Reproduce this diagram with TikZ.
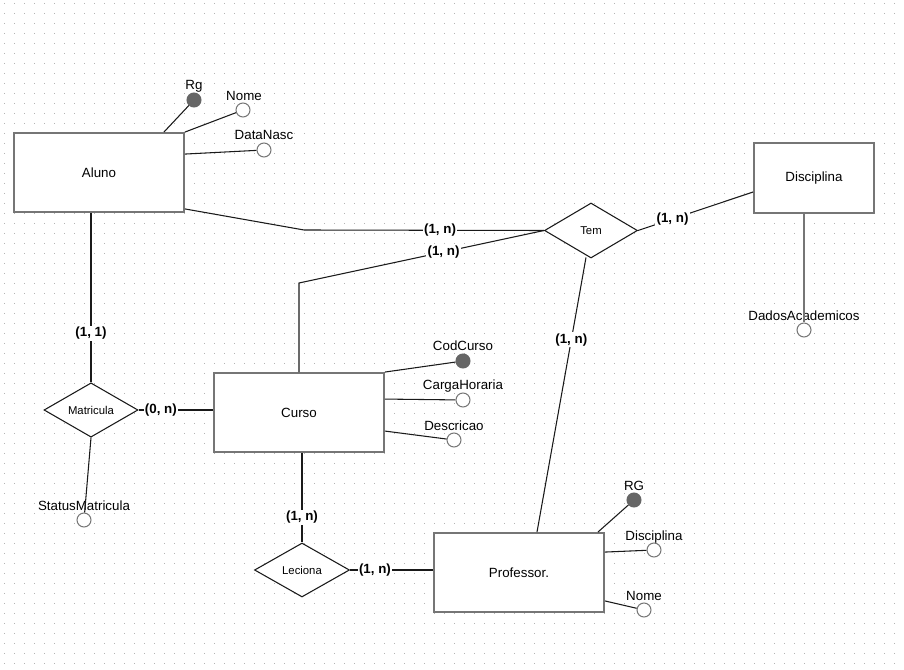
\documentclass[tikz,border=0pt]{standalone}
\usepackage{fontspec}
\setmainfont{Liberation Sans}
\usetikzlibrary{positioning,calc,shapes.geometric}

\definecolor{boxgray}{HTML}{767676}
\definecolor{keygray}{HTML}{666666}
\definecolor{dotgray}{HTML}{B4B4B4}
\definecolor{linegray}{HTML}{1A1A1A}

\tikzset{
  entity/.style={draw=boxgray, line width=1.4pt, fill=white, minimum width=127.5pt,
    minimum height=59.25pt, font=\fontsize{10}{12}\selectfont},
  relation/.style={diamond, draw=linegray, line width=0.8pt, fill=white, inner sep=0pt,
    font=\fontsize{8.5}{10}\selectfont},
  attrib/.style={circle, draw=boxgray, fill=white, line width=0.8pt, minimum size=10.5pt, inner sep=0pt},
  keyattr/.style={attrib, draw=keygray, fill=keygray},
  attrname/.style={inner sep=0pt, font=\fontsize{10}{12}\selectfont},
  card/.style={fill=white, inner sep=1pt, font=\bfseries\fontsize{10}{12}\selectfont},
  conn/.style={draw=linegray, line width=0.8pt},
}

\begin{document}
\begin{tikzpicture}[x=0.75pt,y=-0.75pt]
        \useasboundingbox (0,0) rectangle (904,670);
        % dotted grid
        \foreach \j in {0,1,...,66} {
          \draw[dotgray, line width=0.75pt, dash pattern=on 0.75pt off 6.75pt]
            (4,{3.5+10*\j}) -- (900,{3.5+10*\j});
        }

        % entities
        \node[entity] (aluno) at (99,172.5) {Aluno};
        \node[entity, minimum width=90pt, minimum height=52.5pt] (disc) at (814,178) {Disciplina};
        \node[entity] (curso) at (299,412.5) {Curso};
        \node[entity] (prof) at (519,572.5) {Professor.};

        % relationships
        \node[relation, minimum width=69.75pt, minimum height=41.25pt] (tem) at (591,230.5) {Tem};
        \node[relation, minimum width=70.5pt, minimum height=40.5pt] (mat) at (91,410) {Matricula};
        \node[relation, minimum width=71.25pt, minimum height=40.5pt] (lec) at (302,570) {Leciona};

        % attributes
        \node[keyattr] (aluno-rg) at (194,100) {};
        \node[attrname] (aluno-rg-t) at (194,86) {Rg};
        \node[attrib] (aluno-nome) at (243,110) {};
        \node[attrname] (aluno-nome-t) at (244,96) {Nome};
        \node[attrib] (aluno-nasc) at (264,150) {};
        \node[attrname] (aluno-nasc-t) at (264,135) {DataNasc};

        \node[attrib] (disc-dados) at (804,330) {};
        \node[attrname] (disc-dados-t) at (804,316) {DadosAcademicos};

        \node[keyattr] (curso-cod) at (463,361) {};
        \node[attrname] (curso-cod-t) at (463,346) {CodCurso};
        \node[attrib] (curso-carga) at (463,400) {};
        \node[attrname] (curso-carga-t) at (463,386) {CargaHoraria};
        \node[attrib] (curso-desc) at (454,440) {};
        \node[attrname] (curso-desc-t) at (454,426) {Descricao};

        \node[attrib] (mat-status) at (84,520) {};
        \node[attrname] (mat-status-t) at (84,506) {StatusMatricula};

        \node[keyattr] (prof-rg) at (634,500) {};
        \node[attrname] (prof-rg-t) at (634,486) {RG};
        \node[attrib] (prof-disc) at (654,550) {};
        \node[attrname] (prof-disc-t) at (654,537) {Disciplina};
        \node[attrib] (prof-nome) at (644,610) {};
        \node[attrname] (prof-nome-t) at (644,596) {Nome};

        % attribute links
        \draw[conn] ($(aluno.north east)+(-21,0)$) -- (aluno-rg);
        \draw[conn] (aluno.north east) -- (aluno-nome);
        \draw[conn] ($(aluno.north east)+(0,22)$) -- (aluno-nasc);
        \draw[boxgray, line width=1.4pt] ($(disc.south)+(-10,0)$) -- (disc-dados);
        \draw[conn] (curso.north east) -- (curso-cod);
        \draw[conn] ($(curso.north east)+(0,27)$) -- (curso-carga);
        \draw[conn] ($(curso.north east)+(0,59)$) -- (curso-desc);
        \draw[conn] (mat.south) -- (mat-status);
        \draw[conn] ($(prof.north east)+(-7,0)$) -- (prof-rg);
        \draw[conn] ($(prof.north east)+(0,20)$) -- (prof-disc);
        \draw[conn] ($(prof.south east)+(0,-12)$) -- (prof-nome);

        % relationship links
        \coordinate (bend-aluno) at (304,230);
        \coordinate (bend-curso) at (299,283);
        \draw[conn] ($(aluno.south east)+(0,-4)$) -- (bend-aluno)
          -- node[card, pos=0.567] (card-aluno-tem) {(1, n)} (tem.west);
        \draw[conn] (curso.north) -- (bend-curso)
          -- node[card, pos=0.59] (card-curso-tem) {(1, n)} (tem.west);
        \draw[conn] (tem.east)
          -- node[card, pos=0.3] (card-tem-disc) {(1, n)} ($(disc.west)+(0,14)$);
        \draw[conn] ($(tem.south)+(-5,-1)$)
          -- node[card, pos=0.3] (card-tem-prof) {(1, n)} ($(prof.north)+(18,0)$);
        \draw[conn] (mat.north |- aluno.south)
          -- node[card, pos=0.71] (card-aluno-mat) {(1, 1)} (mat.north);
        \draw[conn] (mat.east)
          -- node[card, pos=0.3] (card-mat-curso) {(0, n)} (curso.west |- mat.east);
        \draw[conn] (lec.north |- curso.south)
          -- node[card, pos=0.72] (card-curso-lec) {(1, n)} (lec.north);
        \draw[conn] (lec.east)
          -- node[card, pos=0.3] (card-lec-prof) {(1, n)} (prof.west |- lec.east);
      \end{tikzpicture}
\end{document}
